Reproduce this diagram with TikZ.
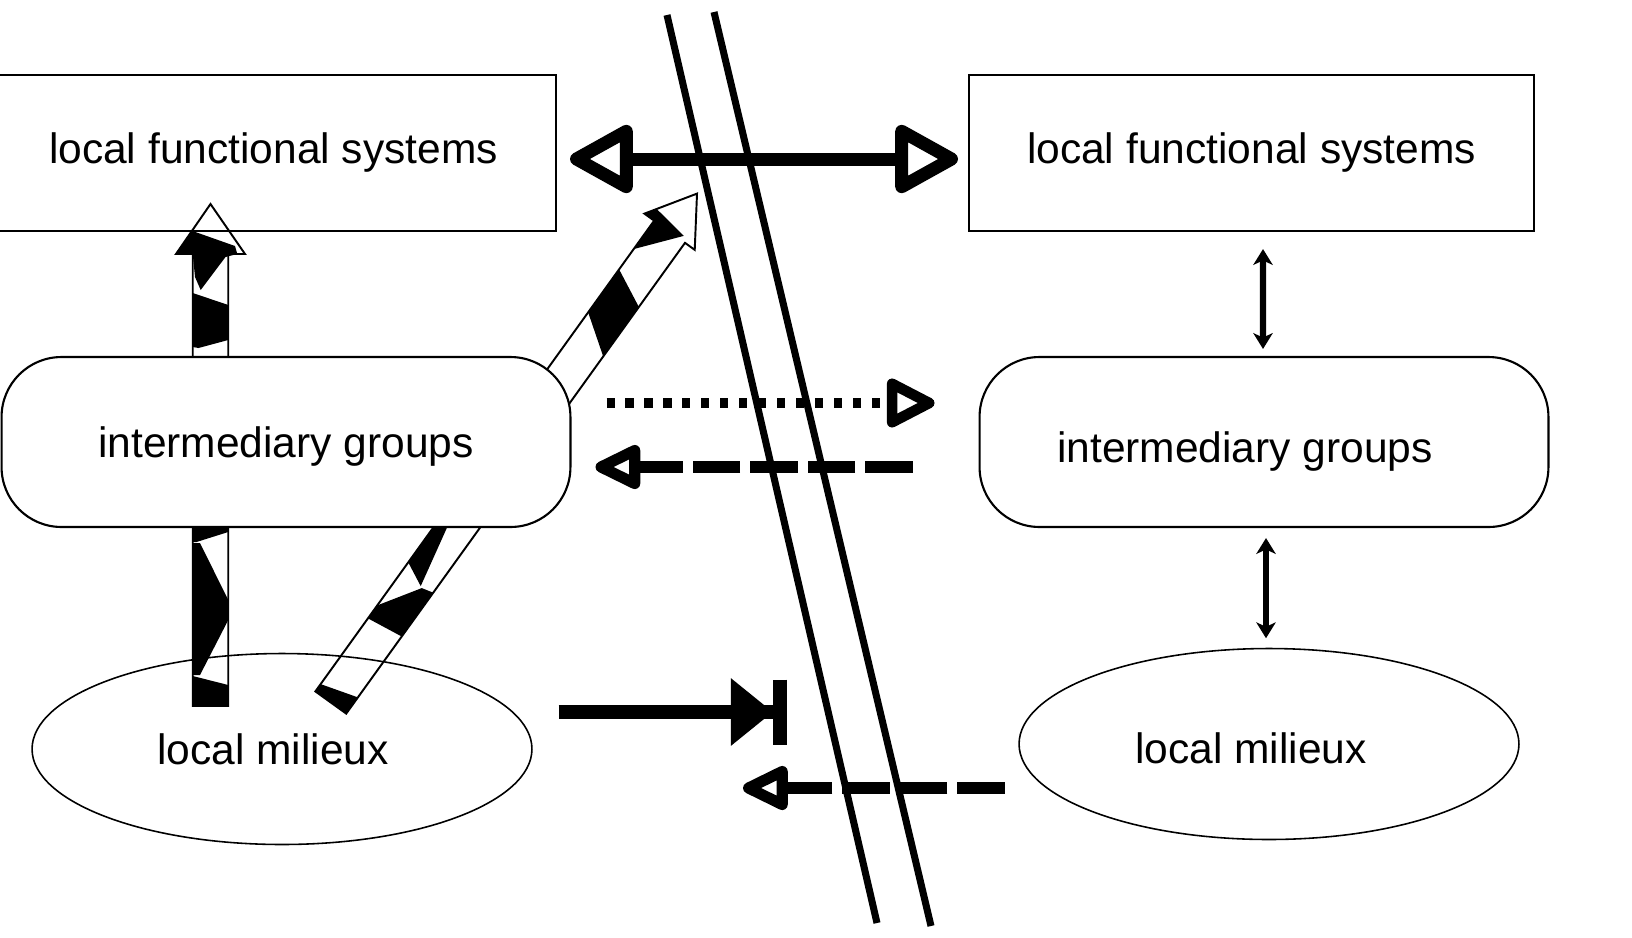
\documentclass[tikz,border=0pt]{standalone}
\usepackage{fontspec}
\setmainfont{Liberation Sans}
\usetikzlibrary{arrows.meta, shapes.geometric}

\begin{document}
\begin{tikzpicture}[x=0.02cm, y=-0.02cm, font=\fontsize{24.2pt}{29pt}\selectfont,
    sysbox/.style={draw, line width=1.2pt, minimum width=11.3cm, minimum height=3.12cm, inner sep=0pt},
    groupbox/.style={draw, fill=white, line width=1.2pt, rounded corners=1.2cm, minimum width=11.38cm, minimum height=3.4cm, inner sep=0pt},
    milieu/.style={draw, ellipse, line width=0.9pt, minimum width=10cm, minimum height=3.82cm, inner sep=0pt},
    borderline/.style={line width=4pt},
    stripe/.style={line width=1.1pt},
    exchange/.style={line width=7.4pt, >={Triangle[open, length=40pt, width=42pt, line join=round]}, <->},
    linkflow/.style={line width=3.6pt, >={Stealth[length=9pt, width=11pt, inset=2.5pt]}, <->},
    dotflow/.style={line width=6pt, dash pattern=on 4.6pt off 6.2pt, -{Triangle[open, length=31pt, width=30pt, line join=round]}},
    dashflow/.style={line width=6.3pt, dash pattern=on 27pt off 5.7pt, -{Triangle[open, length=30pt, width=27pt, line join=round]}},
    blockflow/.style={line width=8pt, -{Triangle[length=24pt, width=37pt] Bar[width=37pt]}}
  ]
    \useasboundingbox (0,0) rectangle (1632,937);

    % border between the two sides
    \draw[borderline] (667,15) -- (877,923);
    \draw[borderline] (714,12) -- (931,926);

    % striped arrow: milieux up to functional systems
    \begin{scope}[shift={(210.5,706)}, rotate=90]
      \draw[stripe] (0,-17.75) -- (452,-17.75) -- (452,-34.5) -- (502,0) -- (452,34.5) -- (452,17.75) -- (0,17.75) -- cycle;
      \fill (452,-34.5) -- (475,-18) -- (460,24.5) -- (452,26.8) -- (449,15) -- (416,-9.8) -- (429,-15.5) -- (452,-17.75) -- cycle;
      \fill (413,-17.75) -- (401,17.75) -- (366,17.75) -- (358,-12) -- (359,-17.75) -- cycle;
      \fill (190,-17.75) -- (190,17.75) -- (174,17.75) -- (164,-14) -- (164,-17.75) -- cycle;
      \fill (163,-17.75) -- (163,-10.5) -- (106,17.75) -- (86,17.75) -- (31,-10.5) -- (31,-17.75) -- cycle;
      \fill (30,-17.75) -- (29,-13.8) -- (21,17.75) -- (0,17.75) -- (0,-17.75) -- cycle;
    \end{scope}

    % striped arrow: milieux across the border
    \begin{scope}[shift={(330.8,702.5)}, rotate=54.26]
      \draw[stripe] (0,-19) -- (580,-19) -- (580,-31) -- (627,0) -- (580,31) -- (580,19) -- (0,19) -- cycle;
      \fill (545,-19) -- (580,-19) -- (580,-31) -- (591,-24) -- (585,14) -- cycle;
      \fill (467,-19) -- (520,-19) -- (501,19) -- (440,19) -- cycle;
      \fill (159,-19) -- (240,-19) -- (240,-14) -- (147,5) -- cycle;
      \fill (90,-19) -- (106,-19) -- (146,7) -- (149,19) -- (95,19) -- cycle;
      \fill (0,-19) -- (9,-19) -- (20,19) -- (0,19) -- cycle;
    \end{scope}

    % left side
    \node[sysbox] (lfsL) at (273.5,153) {local functional systems};
    \node[groupbox, label={[shift={(0,4)}]center:intermediary groups}] (igL) at (286,442) {};
    \node[milieu, label={[shift={(-9,0)}]center:local milieux}] (lmL) at (282,749) {};

    % right side
    \node[sysbox] (lfsR) at (1251.5,153) {local functional systems};
    \node[groupbox, label={[shift={(-19,9)}]center:intermediary groups}] (igR) at (1264,442) {};
    \node[milieu, label={[shift={(-18,4)}]center:local milieux}] (lmR) at (1269,744) {};

    % ends at the border
    \coordinate (barrierA) at (787,712);
    \coordinate (barrierB) at (743,788);

    % exchanges
    \draw[exchange] ([shift={(13,6)}]lfsL.east) -- ([shift={(-10,6)}]lfsR.west);
    \draw[dotflow] ([shift={(35,-39)}]igL.east) -- ([shift={(-44,-39)}]igR.west);
    \draw[dashflow] ([shift={(-66,25)}]igR.west) -- ([shift={(24,25)}]igL.east);
    \draw[blockflow] ([shift={(26,-37)}]lmL.east) -- (barrierA);
    \draw[dashflow] ([shift={(-13.5,44)}]lmR.west) -- (barrierB);

    % links on the right side
    \draw[linkflow] ([shift={(11.5,17)}]lfsR.south) -- ([shift={(-1,-7)}]igR.north);
    \draw[linkflow] ([shift={(2,10)}]igR.south) -- ([shift={(-3,-9.5)}]lmR.north);
\end{tikzpicture}
\end{document}
